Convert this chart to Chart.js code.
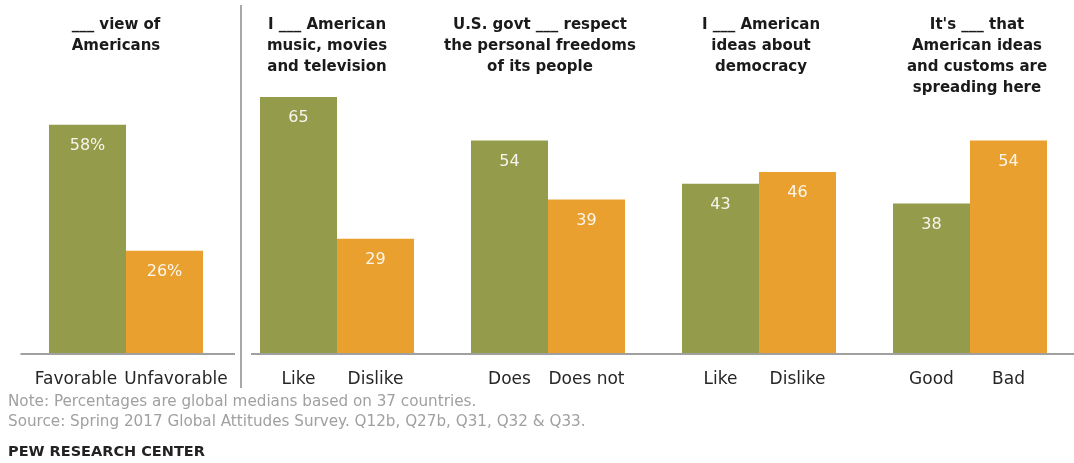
<!DOCTYPE html>
<html>
<head>
<meta charset="utf-8">
<script src="https://cdn.jsdelivr.net/npm/chart.js@4/dist/chart.umd.min.js"></script>
<style>
  html, body { margin: 0; padding: 0; background: #fff; overflow: hidden; }
  #wrap { position: relative; width: 1080px; height: 463px; }
  canvas { position: absolute; left: 0; top: 0; }
  .foot { position: absolute; left: 8px; white-space: nowrap; }
  .note { font: 15.2px "DejaVu Sans", sans-serif; color: #a0a0a0; line-height: 18px; }
  .brand { font: bold 14.5px "DejaVu Sans", sans-serif; color: #222; line-height: 18px; }
</style>
</head>
<body>
<div id="wrap">
  <canvas id="chart" width="1080" height="463"></canvas>
  <div class="foot note" style="top:392px">Note: Percentages are global medians based on 37 countries.</div>
  <div class="foot note" style="top:412px">Source: Spring 2017 Global Attitudes Survey. Q12b, Q27b, Q31, Q32 &amp; Q33.</div>
  <div class="foot brand" style="top:442px">PEW RESEARCH CENTER</div>
</div>
<script>
// Question headings, one per group of bars
const groupTitles = [
  ['___ view of', 'Americans'],
  ['I ___ American', 'music, movies', 'and television'],
  ['U.S. govt ___ respect', 'the personal freedoms', 'of its people'],
  ['I ___ American', 'ideas about', 'democracy'],
  ["It's ___ that", 'American ideas', 'and customs are', 'spreading here']
];
// Answer labels under the green and orange bars
const positiveLabels = ['Favorable', 'Like', 'Does', 'Like', 'Good'];
const negativeLabels = ['Unfavorable', 'Dislike', 'Does not', 'Dislike', 'Bad'];
// Global medians (%)
const positiveValues = [58, 65, 54, 43, 38];
const negativeValues = [26, 29, 39, 46, 54];
// Value suffix per group
const valueSuffix = ['%', '', '', '', ''];

const GREEN = '#949b4a';
const ORANGE = '#e9a02e';
const titleShift = [-10, -10, -8, 2, 7];

const decor = {
  id: 'groupDecor',
  afterDatasetsDraw(chart) {
    const { ctx, chartArea, scales: { x, y } } = chart;
    const base = y.getPixelForValue(0);
    const m0 = chart.getDatasetMeta(0);
    const m1 = chart.getDatasetMeta(1);
    const sepX = x.getPixelForValue(0.5) + 9.5;

    ctx.save();
    // baselines, split around the divider
    ctx.strokeStyle = '#a0a0a0';
    ctx.lineWidth = 2;
    ctx.beginPath();
    ctx.moveTo(chartArea.left, base + 1);
    ctx.lineTo(sepX - 6, base + 1);
    ctx.moveTo(sepX + 10, base + 1);
    ctx.lineTo(chartArea.right, base + 1);
    ctx.stroke();
    // divider between the first group and the rest
    ctx.strokeStyle = '#a8a8a8';
    ctx.beginPath();
    ctx.moveTo(sepX, 5);
    ctx.lineTo(sepX, 388);
    ctx.stroke();

    // values inside the bars
    ctx.fillStyle = 'rgba(255,255,255,0.9)';
    ctx.font = '16px "DejaVu Sans", sans-serif';
    ctx.textAlign = 'center';
    ctx.textBaseline = 'middle';
    [m0, m1].forEach((meta, d) => {
      const vals = d === 0 ? positiveValues : negativeValues;
      meta.data.forEach((bar, i) => {
        ctx.fillText(vals[i] + valueSuffix[i], bar.x, bar.y + 21);
      });
    });

    // answer labels under the bars, spread apart when they collide
    ctx.fillStyle = '#262626';
    ctx.font = '17px "DejaVu Sans", sans-serif';
    const gap = 7;
    m0.data.forEach((bar, i) => {
      const b1 = m1.data[i];
      let c0 = bar.x, c1 = b1.x;
      const w0 = ctx.measureText(positiveLabels[i]).width;
      const w1 = ctx.measureText(negativeLabels[i]).width;
      const overlap = (c0 + w0 / 2 + gap) - (c1 - w1 / 2);
      if (overlap > 0) { c0 -= overlap / 2; c1 += overlap / 2; }
      ctx.fillText(positiveLabels[i], c0, 380);
      ctx.fillText(negativeLabels[i], c1, 380);
    });

    // group headings
    ctx.fillStyle = '#1a1a1a';
    ctx.font = 'bold 15px "DejaVu Sans", sans-serif';
    groupTitles.forEach((lines, i) => {
      const cx = x.getPixelForValue(i) + titleShift[i];
      lines.forEach((t, k) => ctx.fillText(t, cx, 25 + 21 * k));
    });
    ctx.restore();
  }
};

new Chart(document.getElementById('chart'), {
  type: 'bar',
  data: {
    labels: groupTitles.map(t => t.join(' ')),
    datasets: [
      { data: positiveValues, backgroundColor: GREEN },
      { data: negativeValues, backgroundColor: ORANGE }
    ]
  },
  options: {
    responsive: false,
    animation: false,
    layout: { padding: { left: 20.5, right: 4.5, top: 38, bottom: 110 } },
    datasets: { bar: { categoryPercentage: 0.73, barPercentage: 1.0 } },
    plugins: { legend: { display: false }, tooltip: { enabled: false } },
    scales: {
      x: { display: false },
      y: { display: false, min: 0, max: 80 }
    }
  },
  plugins: [decor]
});
</script>
</body>
</html>
